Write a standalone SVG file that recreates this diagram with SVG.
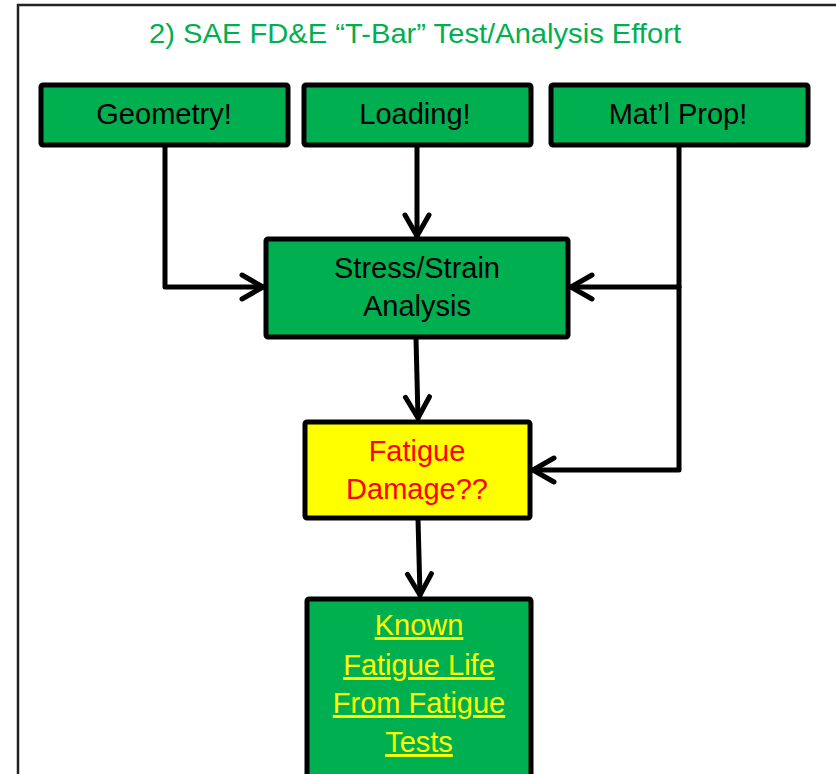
<svg xmlns="http://www.w3.org/2000/svg" width="836" height="774" viewBox="0 0 836 774">
<style>
.box{fill:#00B050;stroke:#000;stroke-width:5}
.yel{fill:#FFFF00;stroke:#000;stroke-width:5}
.t{font-family:"Liberation Sans",Arial,sans-serif;font-size:29px;text-anchor:middle;fill:#000}
.red{fill:#FF0000}
.ul{fill:#FFFF00;text-decoration:underline}
.c{fill:none;stroke:#000;stroke-width:5;stroke-linejoin:round;stroke-linecap:round}
</style>
<defs>
<marker id="arr" markerUnits="userSpaceOnUse" orient="auto" overflow="visible" markerWidth="40" markerHeight="40" refX="0" refY="0">
<path d="M-21,-12 L0,0 L-21,12" fill="none" stroke="#000" stroke-width="5" stroke-linecap="round" stroke-linejoin="round"/>
</marker>
</defs>
<rect width="836" height="774" fill="#fff"/>
<path d="M18,790 V5 H850" fill="none" stroke="#222" stroke-width="2.5"/>
<text x="415" y="43" font-family="'Liberation Sans',Arial,sans-serif" font-size="28" fill="#00B050" text-anchor="middle" textLength="532" lengthAdjust="spacingAndGlyphs">2) SAE FD&amp;E “T-Bar” Test/Analysis Effort</text>
<g id="connectors">
<path class="c" d="M165,146 V287 H263" marker-end="url(#arr)"/>
<path class="c" d="M417,146 V236" marker-end="url(#arr)"/>
<path class="c" d="M679,146 V470 H533" marker-end="url(#arr)"/>
<path class="c" d="M679,287 H571" marker-end="url(#arr)"/>
<path class="c" d="M416,338 L418,418" marker-end="url(#arr)"/>
<path class="c" d="M418,519 L420,595" marker-end="url(#arr)"/>
</g>
<g id="geometry">
<rect class="box" x="41" y="85" width="247" height="60" rx="2"/>
<text class="t" x="164" y="124">Geometry!</text>
</g>
<g id="loading">
<rect class="box" x="304" y="85" width="227" height="60" rx="2"/>
<text class="t" x="415" y="124">Loading!</text>
</g>
<g id="matl">
<rect class="box" x="551" y="85" width="257" height="60" rx="2"/>
<text class="t" x="678" y="124">Mat’l Prop!</text>
</g>
<g id="stress">
<rect class="box" x="266" y="239" width="302" height="98" rx="2"/>
<text class="t" x="417" y="278">Stress/Strain</text>
<text class="t" x="417" y="316">Analysis</text>
</g>
<g id="fatigue">
<rect class="yel" x="305" y="422" width="225" height="96" rx="2"/>
<text class="t red" x="417" y="461">Fatigue</text>
<text class="t red" x="417" y="499">Damage??</text>
</g>
<g id="known">
<rect class="box" x="307" y="599" width="224" height="200" rx="2"/>
<text class="t ul" x="419" y="635">Known</text>
<text class="t ul" x="419" y="675">Fatigue Life</text>
<text class="t ul" x="419" y="713">From Fatigue</text>
<text class="t ul" x="419" y="752">Tests</text>
</g>
</svg>
